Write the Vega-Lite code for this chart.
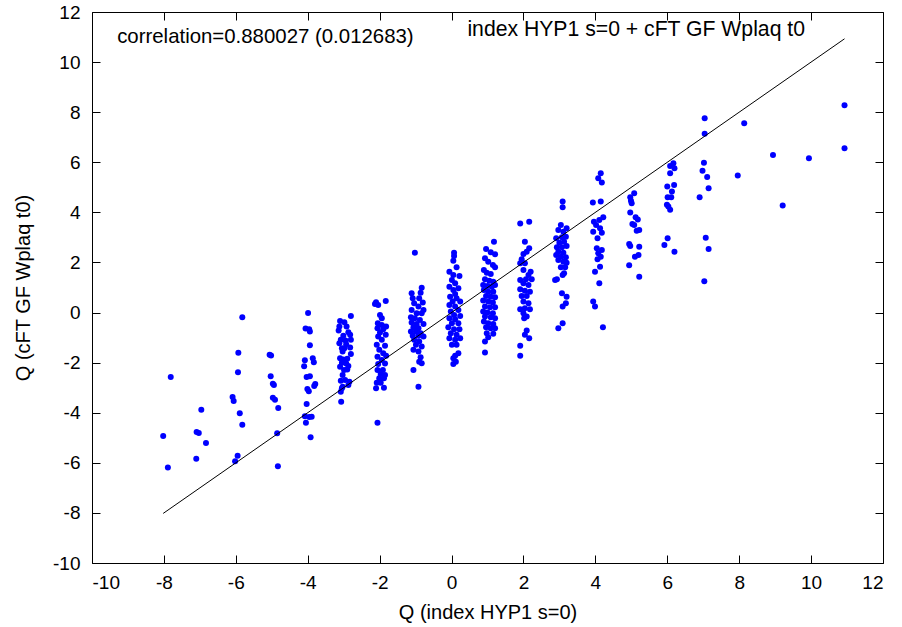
{
  "$schema": "https://vega.github.io/schema/vega-lite/v6.json",
  "width": 791,
  "height": 551,
  "autosize": {"type": "none"},
  "padding": {"left": 92, "top": 12, "right": 19, "bottom": 64},
  "background": "white",
  "config": {
    "view": {"stroke": "black", "strokeWidth": 1},
    "font": "Liberation Sans",
    "axis": {"grid": false, "domain": false, "labelFont": "Liberation Sans", "titleFont": "Liberation Sans", "labelColor": "black", "titleColor": "black", "tickColor": "black", "labelFontSize": 19, "titleFontSize": 20, "titleFontWeight": "normal", "labelExpr": "'' + datum.value"}
  },
  "resolve": {"axis": {"x": "independent", "y": "independent"}},
  "layer": [
    {
      "data": {"values": [
        {"x":-5.82,"y":-0.19},{"x":-5.93,"y":-1.61},{"x":-5.06,"y":-1.69},{"x":-5.02,"y":-1.72},{"x":-7.81,"y":-2.57},{"x":-5.94,"y":-2.38},{"x":-5.03,"y":-2.54},{"x":-4.97,"y":-2.84},{"x":-4.94,"y":-2.89},{"x":-6.09,"y":-3.37},{"x":-6.06,"y":-3.53},{"x":-4.97,"y":-3.40},{"x":-4.91,"y":-3.48},{"x":-4.82,"y":-3.81},{"x":-6.96,"y":-3.88},{"x":-5.89,"y":-4.02},{"x":-5.82,"y":-4.48},{"x":-8.02,"y":-4.93},{"x":-7.09,"y":-4.77},{"x":-7.03,"y":-4.81},{"x":-6.83,"y":-5.21},{"x":-4.85,"y":-4.82},{"x":-7.10,"y":-5.84},{"x":-5.95,"y":-5.72},{"x":-6.02,"y":-5.94},{"x":-7.89,"y":-6.19},{"x":-4.83,"y":-6.14},
        {"x":-3.99,"y":-0.02},{"x":-4.06,"y":-0.64},{"x":-3.96,"y":-0.67},{"x":-3.94,"y":-0.76},{"x":-3.94,"y":-1.31},{"x":-4.08,"y":-1.90},{"x":-3.86,"y":-1.82},{"x":-3.83,"y":-1.98},{"x":-4.10,"y":-2.14},{"x":-4.03,"y":-2.57},{"x":-3.94,"y":-2.54},{"x":-3.79,"y":-2.85},{"x":-3.82,"y":-2.93},{"x":-4.01,"y":-3.05},{"x":-3.97,"y":-3.14},{"x":-4.03,"y":-3.65},{"x":-4.08,"y":-4.14},{"x":-3.96,"y":-4.17},{"x":-3.89,"y":-4.16},{"x":-4.05,"y":-4.40},{"x":-3.92,"y":-4.98},
        {"x":-3.10,"y":-0.34},{"x":-2.98,"y":-0.39},{"x":-2.80,"y":-0.14},{"x":-3.12,"y":-0.56},{"x":-2.92,"y":-0.56},{"x":-3.14,"y":-0.72},{"x":-2.87,"y":-0.79},{"x":-3.01,"y":-0.93},{"x":-2.82,"y":-0.89},{"x":-3.08,"y":-1.09},{"x":-2.95,"y":-1.12},{"x":-2.80,"y":-1.09},{"x":-3.12,"y":-1.23},{"x":-2.93,"y":-1.27},{"x":-3.05,"y":-1.43},{"x":-2.98,"y":-1.43},{"x":-2.82,"y":-1.40},{"x":-3.03,"y":-1.56},{"x":-3.10,"y":-1.82},{"x":-3.01,"y":-1.87},{"x":-2.90,"y":-1.84},{"x":-2.80,"y":-1.66},{"x":-3.05,"y":-2.00},{"x":-2.93,"y":-2.03},{"x":-2.87,"y":-2.13},{"x":-3.10,"y":-2.16},{"x":-2.99,"y":-2.29},{"x":-2.90,"y":-2.27},{"x":-3.03,"y":-2.49},{"x":-3.08,"y":-2.72},{"x":-2.96,"y":-2.69},{"x":-2.84,"y":-2.76},{"x":-3.03,"y":-2.96},{"x":-2.87,"y":-2.89},{"x":-3.08,"y":-3.16},{"x":-3.05,"y":-3.02},{"x":-3.07,"y":-3.56},
        {"x":-2.10,"y":0.41},{"x":-2.04,"y":0.30},{"x":-1.83,"y":0.46},{"x":-2.13,"y":0.34},{"x":-1.99,"y":-0.10},{"x":-1.94,"y":-0.23},{"x":-2.05,"y":-0.43},{"x":-1.94,"y":-0.50},{"x":-1.82,"y":-0.56},{"x":-2.06,"y":-0.63},{"x":-1.90,"y":-0.67},{"x":-1.99,"y":-0.80},{"x":-2.04,"y":-0.96},{"x":-1.83,"y":-0.89},{"x":-1.94,"y":-1.09},{"x":-2.08,"y":-1.29},{"x":-1.85,"y":-1.33},{"x":-2.01,"y":-1.49},{"x":-1.90,"y":-1.63},{"x":-2.06,"y":-1.76},{"x":-1.82,"y":-1.73},{"x":-1.94,"y":-1.89},{"x":-2.04,"y":-2.05},{"x":-1.85,"y":-2.03},{"x":-2.06,"y":-2.29},{"x":-1.91,"y":-2.29},{"x":-1.97,"y":-2.45},{"x":-1.85,"y":-2.49},{"x":-2.01,"y":-2.62},{"x":-1.88,"y":-2.62},{"x":-2.08,"y":-2.80},{"x":-1.97,"y":-2.80},{"x":-2.10,"y":-3.02},{"x":-1.88,"y":-3.00},{"x":-2.06,"y":-4.40},
        {"x":-1.02,"y":2.39},{"x":-0.83,"y":0.99},{"x":-1.11,"y":0.77},{"x":-0.86,"y":0.79},{"x":-1.08,"y":0.57},{"x":-0.90,"y":0.57},{"x":-0.80,"y":0.40},{"x":-1.04,"y":0.37},{"x":-0.92,"y":0.24},{"x":-0.78,"y":0.10},{"x":-1.11,"y":0.10},{"x":-0.97,"y":-0.03},{"x":-0.83,"y":-0.03},{"x":-1.13,"y":-0.19},{"x":-1.02,"y":-0.23},{"x":-0.88,"y":-0.30},{"x":-1.11,"y":-0.40},{"x":-0.97,"y":-0.46},{"x":-0.78,"y":-0.46},{"x":-1.06,"y":-0.59},{"x":-0.92,"y":-0.63},{"x":-1.13,"y":-0.76},{"x":-0.99,"y":-0.76},{"x":-0.86,"y":-0.83},{"x":-1.08,"y":-0.93},{"x":-0.92,"y":-0.93},{"x":-0.78,"y":-0.96},{"x":-1.04,"y":-1.09},{"x":-0.90,"y":-1.16},{"x":-0.99,"y":-1.29},{"x":-0.83,"y":-1.36},{"x":-1.06,"y":-1.49},{"x":-0.92,"y":-1.56},{"x":-0.86,"y":-1.78},{"x":-0.90,"y":-1.96},{"x":-0.83,"y":-2.02},{"x":-1.06,"y":-2.29},{"x":-0.92,"y":-2.96},
        {"x":0.07,"y":2.39},{"x":0.07,"y":2.26},{"x":0.05,"y":2.07},{"x":0.14,"y":1.81},{"x":-0.06,"y":1.63},{"x":0.05,"y":1.50},{"x":0.22,"y":1.46},{"x":0.01,"y":1.30},{"x":0.10,"y":1.17},{"x":-0.06,"y":1.03},{"x":0.05,"y":0.90},{"x":0.19,"y":0.97},{"x":0.10,"y":0.74},{"x":-0.04,"y":0.63},{"x":0.14,"y":0.57},{"x":0.03,"y":0.44},{"x":0.24,"y":0.44},{"x":-0.06,"y":0.30},{"x":0.10,"y":0.24},{"x":0.19,"y":0.10},{"x":-0.02,"y":0.04},{"x":0.07,"y":-0.10},{"x":0.24,"y":-0.14},{"x":-0.06,"y":-0.23},{"x":0.10,"y":-0.27},{"x":0.01,"y":-0.43},{"x":0.19,"y":-0.43},{"x":-0.09,"y":-0.59},{"x":0.07,"y":-0.67},{"x":0.22,"y":-0.67},{"x":-0.02,"y":-0.83},{"x":0.14,"y":-0.89},{"x":-0.06,"y":-1.03},{"x":0.10,"y":-1.09},{"x":0.24,"y":-1.03},{"x":0.01,"y":-1.29},{"x":0.14,"y":-1.29},{"x":0.19,"y":-1.63},{"x":0.10,"y":-1.73},{"x":0.05,"y":-1.82},{"x":0.12,"y":-1.96},{"x":0.05,"y":-2.05},
        {"x":1.18,"y":2.83},{"x":0.96,"y":2.54},{"x":1.09,"y":2.41},{"x":1.21,"y":2.33},{"x":0.93,"y":2.17},{"x":1.02,"y":2.03},{"x":1.15,"y":1.90},{"x":1.21,"y":1.81},{"x":0.90,"y":1.70},{"x":0.98,"y":1.59},{"x":1.09,"y":1.54},{"x":0.93,"y":1.33},{"x":1.05,"y":1.27},{"x":1.16,"y":1.23},{"x":0.88,"y":1.10},{"x":1.00,"y":1.06},{"x":1.12,"y":1.03},{"x":1.21,"y":1.10},{"x":0.90,"y":0.90},{"x":1.02,"y":0.83},{"x":1.16,"y":0.83},{"x":0.96,"y":0.66},{"x":1.09,"y":0.63},{"x":1.21,"y":0.61},{"x":0.88,"y":0.48},{"x":1.02,"y":0.44},{"x":1.15,"y":0.40},{"x":0.93,"y":0.24},{"x":1.07,"y":0.21},{"x":1.21,"y":0.21},{"x":0.88,"y":0.04},{"x":1.00,"y":0.00},{"x":1.15,"y":-0.03},{"x":0.93,"y":-0.16},{"x":1.09,"y":-0.19},{"x":1.21,"y":-0.23},{"x":0.90,"y":-0.36},{"x":1.02,"y":-0.43},{"x":1.16,"y":-0.46},{"x":0.96,"y":-0.59},{"x":1.09,"y":-0.63},{"x":1.21,"y":-0.63},{"x":0.98,"y":-0.83},{"x":1.16,"y":-0.85},{"x":1.02,"y":-0.99},{"x":0.93,"y":-1.16},{"x":0.93,"y":-1.60},
        {"x":1.91,"y":3.56},{"x":2.16,"y":3.63},{"x":2.04,"y":2.83},{"x":2.16,"y":2.57},{"x":2.09,"y":2.43},{"x":2.00,"y":2.34},{"x":1.95,"y":2.13},{"x":1.91,"y":1.97},{"x":2.04,"y":1.97},{"x":2.20,"y":1.63},{"x":2.00,"y":1.70},{"x":2.14,"y":1.50},{"x":1.91,"y":1.30},{"x":2.07,"y":1.33},{"x":2.23,"y":1.33},{"x":2.00,"y":1.17},{"x":2.14,"y":1.10},{"x":1.91,"y":0.93},{"x":2.04,"y":0.87},{"x":2.18,"y":0.83},{"x":1.95,"y":0.66},{"x":2.09,"y":0.66},{"x":2.00,"y":0.44},{"x":2.14,"y":0.37},{"x":1.91,"y":0.13},{"x":2.04,"y":0.17},{"x":2.18,"y":0.13},{"x":2.00,"y":-0.03},{"x":2.09,"y":-0.16},{"x":2.02,"y":-0.23},{"x":2.09,"y":-0.72},{"x":2.04,"y":-0.89},{"x":2.16,"y":-1.03},{"x":1.91,"y":-1.33},{"x":1.91,"y":-1.73},
        {"x":3.09,"y":4.43},{"x":3.09,"y":4.20},{"x":3.04,"y":3.50},{"x":2.97,"y":3.30},{"x":3.20,"y":3.37},{"x":3.11,"y":3.23},{"x":2.91,"y":2.97},{"x":3.07,"y":3.01},{"x":3.18,"y":3.03},{"x":3.00,"y":2.79},{"x":3.13,"y":2.83},{"x":2.93,"y":2.61},{"x":3.07,"y":2.61},{"x":3.20,"y":2.66},{"x":2.97,"y":2.43},{"x":3.11,"y":2.39},{"x":2.91,"y":2.30},{"x":3.04,"y":2.23},{"x":3.18,"y":2.21},{"x":2.97,"y":2.10},{"x":3.11,"y":2.03},{"x":3.20,"y":1.99},{"x":3.04,"y":1.81},{"x":3.16,"y":1.81},{"x":3.13,"y":1.57},{"x":3.09,"y":1.50},{"x":2.93,"y":1.33},{"x":2.88,"y":1.30},{"x":3.07,"y":0.77},{"x":3.20,"y":0.63},{"x":3.18,"y":0.37},{"x":3.09,"y":0.24},{"x":3.09,"y":-0.43},{"x":2.97,"y":-0.63},
        {"x":4.15,"y":5.56},{"x":4.08,"y":5.36},{"x":4.18,"y":5.19},{"x":3.93,"y":4.39},{"x":4.15,"y":4.43},{"x":3.96,"y":3.63},{"x":4.11,"y":3.70},{"x":4.22,"y":3.80},{"x":4.02,"y":3.50},{"x":4.13,"y":3.37},{"x":3.94,"y":3.23},{"x":4.18,"y":3.19},{"x":4.06,"y":2.97},{"x":4.04,"y":2.57},{"x":4.18,"y":2.50},{"x":4.08,"y":2.37},{"x":4.15,"y":2.23},{"x":4.06,"y":2.13},{"x":4.13,"y":1.83},{"x":3.99,"y":1.63},{"x":4.11,"y":1.17},{"x":3.94,"y":0.44},{"x":3.99,"y":0.24},{"x":4.21,"y":-0.59},
        {"x":5.08,"y":4.76},{"x":4.97,"y":4.60},{"x":4.99,"y":4.46},{"x":5.01,"y":4.36},{"x":4.97,"y":3.99},{"x":5.12,"y":3.80},{"x":5.18,"y":3.72},{"x":5.03,"y":3.54},{"x":5.08,"y":3.50},{"x":5.15,"y":3.27},{"x":5.22,"y":3.30},{"x":4.94,"y":2.74},{"x":4.97,"y":2.66},{"x":5.22,"y":2.63},{"x":5.20,"y":2.30},{"x":5.10,"y":2.23},{"x":4.94,"y":1.89},{"x":5.22,"y":1.43},
        {"x":6.08,"y":5.85},{"x":6.17,"y":5.96},{"x":6.20,"y":5.76},{"x":6.08,"y":5.56},{"x":6.00,"y":5.03},{"x":6.19,"y":5.09},{"x":6.13,"y":4.83},{"x":6.01,"y":4.60},{"x":6.11,"y":4.60},{"x":5.99,"y":4.30},{"x":6.03,"y":4.23},{"x":6.08,"y":4.10},{"x":6.01,"y":2.97},{"x":5.92,"y":2.70},{"x":6.20,"y":2.43},
        {"x":7.04,"y":7.76},{"x":7.04,"y":7.14},{"x":8.14,"y":7.56},{"x":10.93,"y":8.28},{"x":10.93,"y":6.56},{"x":8.94,"y":6.29},{"x":9.94,"y":6.16},{"x":7.02,"y":5.98},{"x":6.98,"y":5.66},{"x":7.11,"y":5.41},{"x":7.96,"y":5.47},{"x":7.15,"y":4.96},{"x":6.90,"y":4.60},{"x":9.21,"y":4.27},{"x":7.07,"y":2.99},{"x":7.15,"y":2.54},{"x":7.03,"y":1.25}
      ]},
      "mark": {"type": "circle", "size": 36, "color": "#0000ff", "opacity": 1},
      "encoding": {
        "x": {"field": "x", "type": "quantitative", "scale": {"domain": [-10, 12], "nice": false, "zero": false},
              "axis": {"orient": "bottom", "values": [-10,-8,-6,-4,-2,0,2,4,6,8,10,12], "tickSize": -8, "labelPadding": 18, "title": "Q (index HYP1 s=0)", "titlePadding": 10}},
        "y": {"field": "y", "type": "quantitative", "scale": {"domain": [-10, 12], "nice": false, "zero": false},
              "axis": {"orient": "left", "values": [-10,-8,-6,-4,-2,0,2,4,6,8,10,12], "tickSize": -8, "labelPadding": 20, "title": "Q (cFT GF Wplaq t0)", "titlePadding": 19}}
      }
    },
    {
      "data": {"values": [{"x": -8.02, "y": -8.02}, {"x": 10.93, "y": 10.93}]},
      "mark": {"type": "line", "color": "black", "strokeWidth": 1},
      "encoding": {
        "x": {"field": "x", "type": "quantitative", "axis": {"orient": "top", "values": [-10,-8,-6,-4,-2,0,2,4,6,8,10,12], "tickSize": -8, "labels": false, "title": null}},
        "y": {"field": "y", "type": "quantitative", "axis": {"orient": "right", "values": [-10,-8,-6,-4,-2,0,2,4,6,8,10,12], "tickSize": -8, "labels": false, "title": null}}
      }
    },
    {
      "data": {"values": [
        {"x": -9.3, "y": 11.0, "label": "correlation=0.880027 (0.012683)"}
      ]},
      "mark": {"type": "text", "align": "left", "baseline": "middle", "fontSize": 20.4, "font": "Liberation Sans", "color": "black"},
      "encoding": {
        "x": {"field": "x", "type": "quantitative", "axis": null},
        "y": {"field": "y", "type": "quantitative", "axis": null},
        "text": {"field": "label"}
      }
    },
    {
      "data": {"values": [
        {"x": 9.83, "y": 11.28, "label": "index HYP1 s=0 + cFT GF Wplaq t0"}
      ]},
      "mark": {"type": "text", "align": "right", "baseline": "middle", "fontSize": 21.2, "font": "Liberation Sans", "color": "black"},
      "encoding": {
        "x": {"field": "x", "type": "quantitative", "axis": null},
        "y": {"field": "y", "type": "quantitative", "axis": null},
        "text": {"field": "label"}
      }
    }
  ]
}
